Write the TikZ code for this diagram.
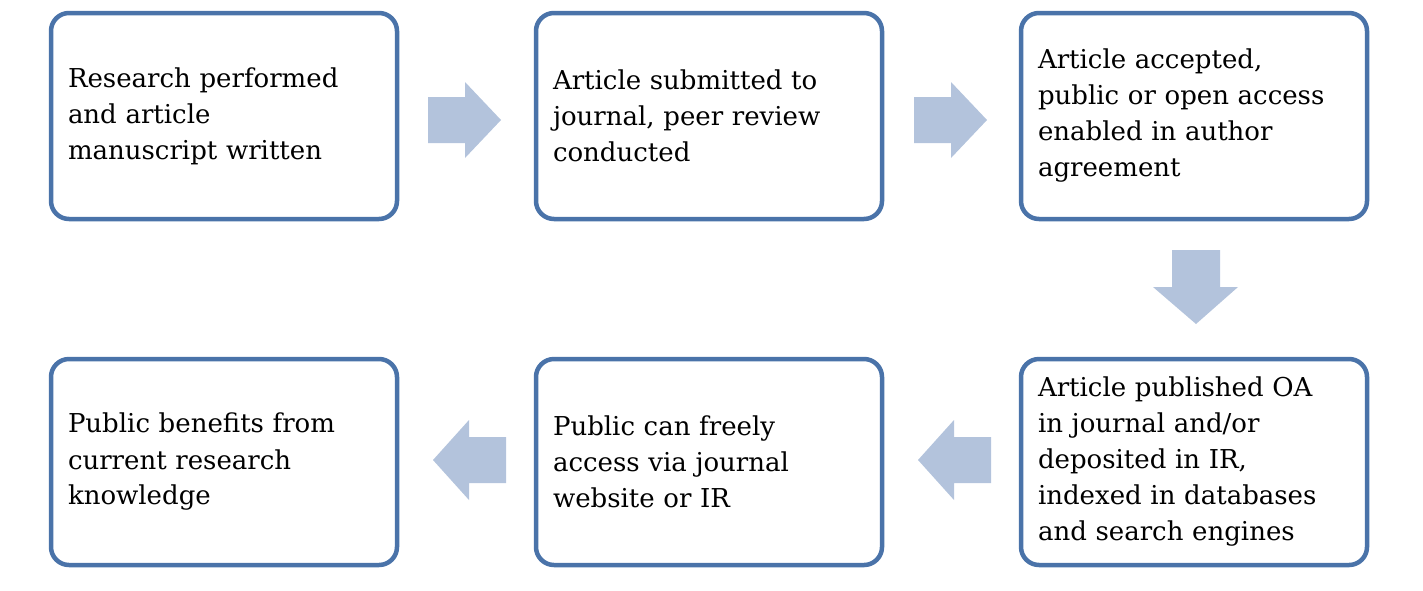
\documentclass[tikz,border=0pt]{standalone}
\usepackage{fontspec}
\setmainfont{DejaVu Serif}
\definecolor{bord}{HTML}{4A73A9}
\definecolor{arr}{HTML}{B3C3DC}
\begin{document}
\begin{tikzpicture}[x=1pt,y=-1pt,
  box/.style={draw=bord,line width=4.5pt,rounded corners=18pt,minimum width=346pt,minimum height=206pt,text width=312pt,align=left,font=\fontsize{26}{36}\selectfont,inner sep=0pt},
  ar/.style={fill=arr,draw=none}]
\useasboundingbox (0,0) rectangle (1423,590);
\node[box] (b1) at (224,116) {Research performed\\and article\\manuscript written};
\node[box] (b2) at (709,116) {Article submitted to\\journal, peer review\\conducted};
\node[box] (b3) at (1194,116) {Article accepted,\\public or open access\\enabled in author\\agreement};
\node[box] (b4) at (1194,462) {Article published OA\\in journal and/or\\deposited in IR,\\indexed in databases\\and search engines};
\node[box] (b5) at (709,462) {Public can freely\\access via journal\\website or IR};
\node[box] (b6) at (224,462) {Public benefits from\\current research\\knowledge};
% right arrows
\fill[ar] (428,97) -- (465,97) -- (465,82) -- (501,120) -- (465,158) -- (465,143) -- (428,143) -- cycle;
\fill[ar] (914,97) -- (951,97) -- (951,82) -- (987,120) -- (951,158) -- (951,143) -- (914,143) -- cycle;
% down arrow
\fill[ar] (1172,250) -- (1220,250) -- (1220,287) -- (1238,287) -- (1196,324) -- (1153,287) -- (1172,287) -- cycle;
% left arrows
\fill[ar] (991,437) -- (954,437) -- (954,420) -- (918,460) -- (954,500) -- (954,483) -- (991,483) -- cycle;
\fill[ar] (506,437) -- (469,437) -- (469,420) -- (433,460) -- (469,500) -- (469,483) -- (506,483) -- cycle;
\end{tikzpicture}
\end{document}
